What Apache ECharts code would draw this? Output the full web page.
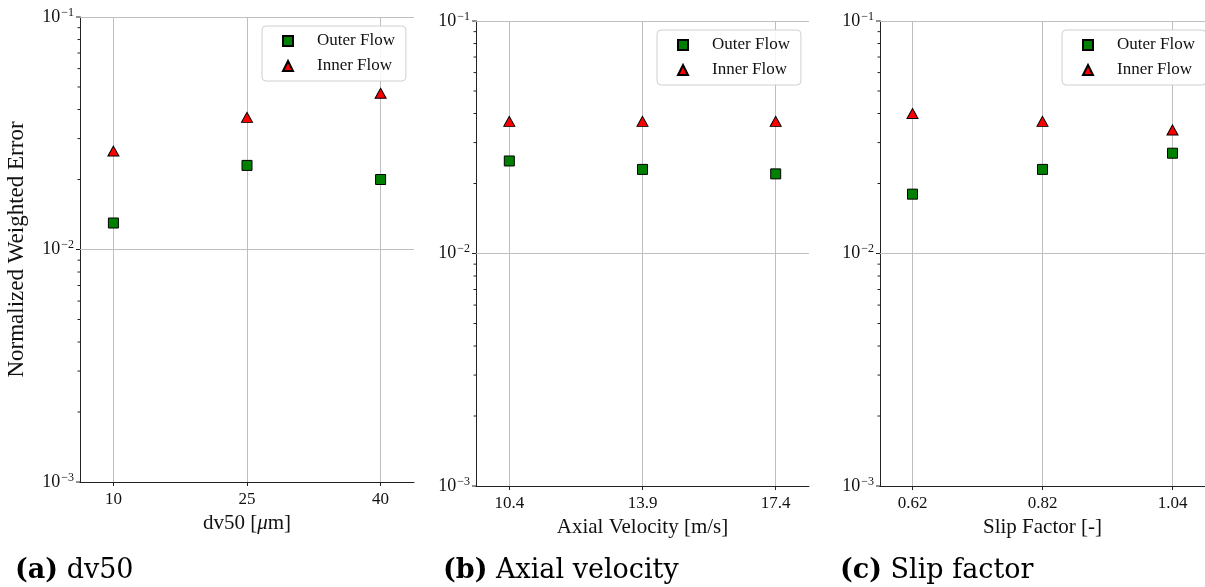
<!DOCTYPE html>
<html>
<head>
<meta charset="utf-8">
<script src="https://cdn.jsdelivr.net/npm/echarts@6/dist/echarts.min.js"></script>
<style>
html,body{margin:0;padding:0;background:#fff;}
#c{width:1205px;height:587px;}
</style>
</head>
<body>
<div id="c"></div>
<script>
// ---- data ----
const catsA = ['10', '25', '40'];
const catsB = ['10.4', '13.9', '17.4'];
const catsC = ['0.62', '0.82', '1.04'];
const outerA = [0.013, 0.023, 0.020];
const innerA = [0.0265, 0.037, 0.047];
const outerB = [0.025, 0.023, 0.022];
const innerB = [0.037, 0.037, 0.037];
const outerC = [0.018, 0.023, 0.027];
const innerC = [0.040, 0.037, 0.034];
const yMajor = [0.001, 0.01, 0.1];
const yMinor = [0.002, 0.003, 0.004, 0.005, 0.006, 0.007, 0.008, 0.009,
                0.02, 0.03, 0.04, 0.05, 0.06, 0.07, 0.08, 0.09];
const xLabels = ['dv50 [{i|μ}m]', 'Axial Velocity [m/s]', 'Slip Factor [-]'];
const captions = ['{b|(a)} dv50', '{b|(b)} Axial velocity', '{b|(c)} Slip factor'];
const yName = 'Normalized Weighted Error';
const seriesNames = ['Outer Flow', 'Inner Flow'];

// ---- layout ----
const panels = [
  {cats: catsA, outer: outerA, inner: innerA, left: 80, right: 791, top: 17, bottom: 105, legend: {left: 262, top: 26}, cap: 15},
  {cats: catsB, outer: outerB, inner: innerB, left: 476, right: 396, top: 21, bottom: 101, legend: {left: 657, top: 30}, cap: 443},
  {cats: catsC, outer: outerC, inner: innerC, left: 880, right: -9, top: 21, bottom: 101, legend: {left: 1062, top: 30}, cap: 840}
];
const FONT = 'Liberation Serif';
const XMIN = -0.25, XMAX = 2.25;
const grid = [], xAxis = [], yAxis = [], series = [], legend = [], graphic = [];
const supFmt = v => '10{s|−' + Math.round(-Math.log10(v)) + '}';

panels.forEach((p, i) => {
  grid.push({left: p.left, right: p.right, top: p.top, bottom: p.bottom, containLabel: false});
  xAxis.push({
    type: 'value', gridIndex: i, min: XMIN, max: XMAX,
    axisLine: {show: true, onZero: false, lineStyle: {color: '#222', width: 1}},
    axisTick: {show: true, customValues: [0, 1, 2], length: 4, lineStyle: {color: '#222'}},
    axisLabel: {customValues: [0, 1, 2], formatter: v => p.cats[Math.round(v)], color: '#111', fontFamily: FONT, fontSize: 17, margin: 9},
    splitLine: {show: true, lineStyle: {color: '#b8b8b8', width: 0.9}},
    name: xLabels[i], nameLocation: 'middle', nameGap: 29,
    nameTextStyle: {color: '#111', fontFamily: FONT, fontSize: 21, rich: {i: {fontStyle: 'italic', fontFamily: FONT, fontSize: 21, color: '#111'}}}
  });
  yAxis.push({
    type: 'log', logBase: 10, gridIndex: i, min: 0.001, max: 0.1,
    axisLine: {show: true, onZero: false, lineStyle: {color: '#222', width: 1}},
    axisTick: {show: false},
    axisLabel: {customValues: yMajor, formatter: supFmt, color: '#111', fontFamily: FONT, fontSize: 18, margin: 6,
      rich: {s: {fontSize: 12, verticalAlign: 'top', padding: [0, 0, 9, 1], fontFamily: FONT, color: '#111'}}},
    splitLine: {show: false},
    name: i === 0 ? yName : '', nameLocation: 'middle', nameGap: 52,
    nameTextStyle: {color: '#111', fontFamily: FONT, fontSize: 23}
  });
  // y-axis tick marks (major / minor), placed on the axis through the scales
  series.push({
    type: 'scatter', xAxisIndex: i, yAxisIndex: i, silent: true, clip: false,
    symbol: 'rect', symbolSize: [4, 1], symbolOffset: [-2, 0],
    itemStyle: {color: '#222', opacity: 1},
    data: yMajor.map(v => [XMIN, v]), z: 4
  });
  series.push({
    type: 'scatter', xAxisIndex: i, yAxisIndex: i, silent: true, clip: false,
    symbol: 'rect', symbolSize: [2.5, 1], symbolOffset: [-1.25, 0],
    itemStyle: {color: '#222', opacity: 1},
    data: yMinor.map(v => [XMIN, v]), z: 4
  });
  series.push({
    name: seriesNames[0], type: 'scatter', xAxisIndex: i, yAxisIndex: i,
    symbol: 'rect', symbolSize: 10,
    itemStyle: {color: '#008000', borderColor: '#000', borderWidth: 1, opacity: 1},
    data: p.outer.map((v, k) => [k, v]), z: 3,
    markLine: {
      silent: true, symbol: 'none', label: {show: false}, z: 1,
      lineStyle: {color: '#b8b8b8', width: 0.9, type: 'solid'},
      data: yMajor.slice(1).map(v => ({yAxis: v}))
    }
  });
  series.push({
    name: seriesNames[1], type: 'scatter', xAxisIndex: i, yAxisIndex: i,
    symbol: 'triangle', symbolSize: [11, 10],
    itemStyle: {color: '#ff0000', borderColor: '#000', borderWidth: 1, opacity: 1},
    data: p.inner.map((v, k) => [k, v]), z: 3
  });
  legend.push({
    left: p.legend.left, top: p.legend.top, orient: 'vertical',
    data: seriesNames,
    itemWidth: 10, itemHeight: 10, itemGap: 7,
    padding: [6, 11, 6, 20],
    backgroundColor: 'rgba(255,255,255,0.85)',
    borderColor: '#d0d0d0', borderWidth: 1, borderRadius: 4,
    textStyle: {fontFamily: FONT, fontSize: 17, color: '#111', lineHeight: 18, padding: [0, 0, 0, 19]},
    selectedMode: false
  });
  graphic.push({
    type: 'text', left: p.cap, top: 557,
    style: {
      text: captions[i], fontFamily: 'DejaVu Serif', fontSize: 27, fill: '#000',
      rich: {b: {fontWeight: 'bold', fontFamily: 'DejaVu Serif', fontSize: 27, fill: '#000'}}
    }
  });
});

const chart = echarts.init(document.getElementById('c'), null, {renderer: 'canvas'});
chart.setOption({
  animation: false,
  backgroundColor: '#fff',
  grid, xAxis, yAxis, series, legend, graphic
});
</script>
</body>
</html>
